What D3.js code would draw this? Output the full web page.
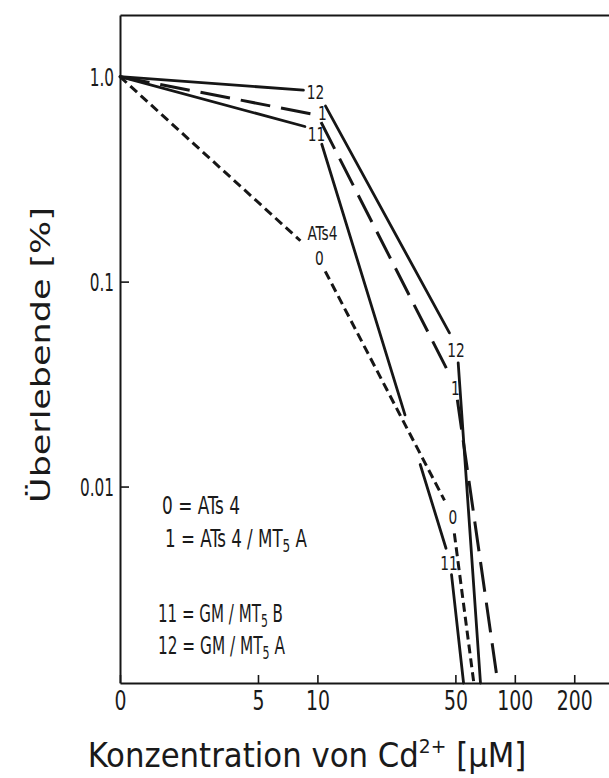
<!DOCTYPE html>
<html>
<head>
<meta charset="utf-8">
<script src="https://cdn.jsdelivr.net/npm/d3@7"></script>
<style>
  html, body { margin: 0; padding: 0; background: #fff; }
  svg { display: block; }
  text { font-family: "Liberation Sans Narrow", "DejaVu Sans Condensed", "Liberation Sans", sans-serif; fill: #1a1a1a; }
</style>
</head>
<body>
<svg id="chart" width="609" height="778"></svg>
<script>
// Cd2+ concentration (µM) and surviving fraction (%) for each cell line.
// Concentration 0 sits at the origin of the logarithmic axis.
const conc0  = [0, 10, 48, 62];
const surv0  = [1.0, 0.133, 0.0073, 0.0011];
const conc1  = [0, 10, 50, 82];
const surv1  = [1.0, 0.65, 0.031, 0.0011];
const conc11 = [0, 10, 47, 55];
const surv11 = [1.0, 0.55, 0.0043, 0.0011];
const conc12 = [0, 10, 51, 67];
const surv12 = [1.0, 0.85, 0.048, 0.0011];

const xTickValues = [0, 5, 10, 50, 100, 200];
const xTickLabels = ["0", "5", "10", "50", "100", "200"];
const yTickValues = [1, 0.1, 0.01];
const yTickLabels = ["1.0", "0.1", "0.01"];
const xDomain = [1, 300];
const yDomain = [0.0011, 2];

const legendCodes  = ["0", "1", "11", "12"];
const legendLines  = ["ATs 4", "ATs 4 / MT|5| A", "GM / MT|5| B", "GM / MT|5| A"];

// ---- layout -------------------------------------------------------------
const W = 609, H = 778;
const plotLeft = 120, plotTop = 15, plotBottom = 683, plotRight = 609;
const ink = "#161616";

const svg = d3.select("#chart");
svg.append("rect").attr("width", W).attr("height", H).attr("fill", "#fff");

const x = d3.scaleLog().domain(xDomain).range([plotLeft, plotRight]);
const y = d3.scaleLog().domain(yDomain).range([plotBottom, plotTop]);
const xAt = c => x(c === 0 ? xDomain[0] : c);

function measure(str, size) {
  const t = svg.append("text").attr("font-size", size).text(str);
  const w = t.node().getComputedTextLength();
  t.remove();
  return w;
}

// ---- axes ---------------------------------------------------------------
const xTickScale = 12 / measure("0", 26);
const gx = svg.append("g").attr("transform", `translate(0,${plotBottom})`)
  .call(d3.axisBottom(x)
    .tickValues(xTickValues.map(v => v === 0 ? xDomain[0] : v))
    .tickSize(-8).tickSizeOuter(0)
    .tickFormat((d, i) => xTickLabels[i]));
gx.select(".domain").attr("stroke", ink).attr("stroke-width", 2);
gx.selectAll(".tick line").attr("stroke", ink).attr("stroke-width", 1.6);
gx.selectAll(".tick text")
  .attr("font-size", 26).attr("fill", ink)
  .attr("y", 27).attr("dy", 0)
  .attr("transform", `scale(${xTickScale},1)`);

const yTickScale = 34 / measure("0.01", 25);
const gy = svg.append("g").attr("transform", `translate(${plotLeft},0)`)
  .call(d3.axisLeft(y)
    .tickValues(yTickValues)
    .tickSize(-9).tickSizeOuter(0)
    .tickFormat((d, i) => yTickLabels[i]));
gy.select(".domain").attr("stroke", ink).attr("stroke-width", 2);
gy.selectAll(".tick line").attr("stroke", ink).attr("stroke-width", 1.6);
gy.selectAll(".tick text")
  .attr("font-size", 25).attr("fill", ink)
  .attr("x", -6 / yTickScale).attr("y", 9).attr("dy", 0)
  .attr("transform", `scale(${yTickScale},1)`);

const gTop = svg.append("g").attr("transform", `translate(0,${plotTop})`)
  .call(d3.axisTop(x).tickValues([]).tickSizeOuter(0));
gTop.select(".domain").attr("stroke", ink).attr("stroke-width", 2);

// ---- curves -------------------------------------------------------------
// gaps: [before point, after point] in px, left open where a label sits
// breaks: [segment index, from, to] as fractions of that segment's length
const curves = [
  { conc: conc0,  surv: surv0,  dash: "9 5",   width: 3,
    gaps: [[0, 0], [23, 17], [16, 19], [0, 0]], breaks: [],
    labels: [{ i: 1, text: "0", dx: 2, dy: 2 }, { i: 1, text: "ATs4", dx: 5, dy: -23 }, { i: 2, text: "0", dx: 1, dy: 2 }] },
  { conc: conc1,  surv: surv1,  dash: "30 11", width: 3,
    gaps: [[0, 0], [5, 8], [15, 14], [0, 0]], breaks: [],
    labels: [{ i: 1, text: "1", dx: 5, dy: -2 }, { i: 2, text: "1", dx: 0, dy: 2 }] },
  { conc: conc11, surv: surv11, dash: null,    width: 2.8,
    gaps: [[0, 0], [13, 15], [14, 13], [0, 0]], breaks: [[1, 0.66, 0.775]],
    labels: [{ i: 1, text: "11", dx: -1, dy: 4 }, { i: 2, text: "11", dx: -1, dy: 1 }] },
  { conc: conc12, surv: surv12, dash: null,    width: 2.8,
    gaps: [[0, 0], [14, 17], [16, 16], [0, 0]], breaks: [],
    labels: [{ i: 1, text: "12", dx: -2, dy: 1 }, { i: 2, text: "12", dx: -1, dy: 3 }] }
];

const line = d3.line();
const gCurves = svg.append("g");
const labelSize = 20;
const labelScale = 30 / measure("ATs4", labelSize);

curves.forEach(cv => {
  const pts = cv.conc.map((c, i) => [xAt(c), y(cv.surv[i])]);
  for (let i = 0; i < pts.length - 1; i++) {
    const a = pts[i], b = pts[i + 1];
    const len = Math.hypot(b[0] - a[0], b[1] - a[1]);
    const ux = (b[0] - a[0]) / len, uy = (b[1] - a[1]) / len;
    const g0 = cv.gaps[i][1], g1 = cv.gaps[i + 1][0];
    const seg = [[a[0] + ux * g0, a[1] + uy * g0], [b[0] - ux * g1, b[1] - uy * g1]];
    const segLen = len - g0 - g1;
    let dash = cv.dash;
    const br = cv.breaks.find(d => d[0] === i);
    if (br) {
      const s0 = len * br[1] - g0, s1 = len * br[2] - g0;
      dash = `${s0} ${s1 - s0} ${segLen}`;
    }
    gCurves.append("path")
      .attr("d", line(seg))
      .attr("fill", "none")
      .attr("stroke", ink)
      .attr("stroke-width", cv.width)
      .attr("stroke-linecap", cv.dash ? "butt" : "round")
      .attr("stroke-dasharray", dash);
  }
  cv.labels.forEach(lb => {
    const p = pts[lb.i];
    svg.append("text")
      .attr("transform", `translate(${p[0] + lb.dx},${p[1] + lb.dy + 7}) scale(${labelScale},1)`)
      .attr("text-anchor", "middle")
      .attr("font-size", labelSize)
      .text(lb.text);
  });
});

// ---- legend -------------------------------------------------------------
function richText(t, str, size) {
  str.split("|").forEach((part, k) => {
    if (k % 2 === 1) {
      t.append("tspan").attr("font-size", size * 0.72).attr("dy", size * 0.2).text(part);
    } else {
      t.append("tspan").attr("font-size", size).attr("dy", k === 0 ? 0 : -size * 0.2).text(part);
    }
  });
}
function fitted(xp, yp, width, size, anchor, build, rot) {
  const g = svg.append("g");
  const t = g.append("text").attr("font-size", size).attr("text-anchor", anchor).attr("fill", ink);
  build(t);
  const s = width / t.node().getComputedTextLength();
  g.attr("transform", `translate(${xp},${yp})${rot ? ` rotate(${rot})` : ""} scale(${s},1)`);
  return g;
}

const legendPos = [[162, 514, 78], [165, 547, 142], [158, 622, 125], [158, 654, 127]];
legendCodes.forEach((code, i) => {
  const [lx, ly, lw] = legendPos[i];
  fitted(lx, ly, lw, 25, "start", t => richText(t, `${code} = ${legendLines[i]}`, 25));
});

// ---- axis titles --------------------------------------------------------
fitted(50, 355, 296, 27, "middle", t => t.text("Überlebende [%]"), -90);

fitted(307, 767, 439, 33, "middle", t => {
  t.append("tspan").text("Konzentration von Cd");
  t.append("tspan").attr("font-size", 20).attr("dy", -14).text("2+");
  t.append("tspan").attr("dy", 14).text(" [µM]");
});
</script>
</body>
</html>
